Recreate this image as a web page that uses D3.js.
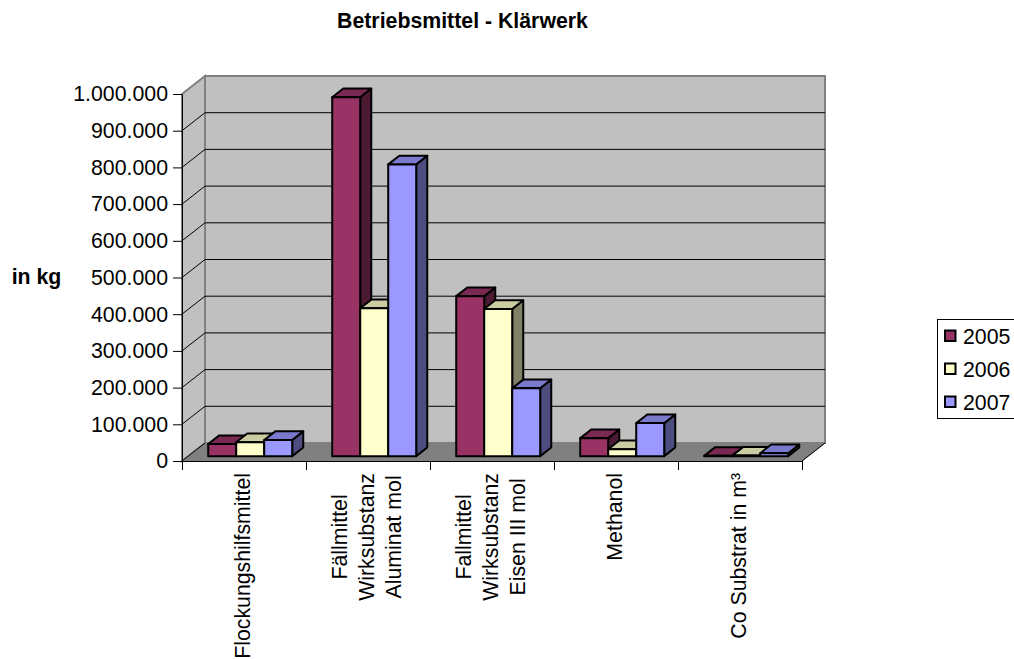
<!DOCTYPE html>
<html>
<head>
<meta charset="utf-8">
<script src="https://cdn.jsdelivr.net/npm/d3@7"></script>
<style>
  html, body { margin: 0; padding: 0; background: #fff; overflow: hidden; }
  text { font-family: "Liberation Sans", Arial, sans-serif; fill: #000; }
</style>
</head>
<body>
<div id="chart"></div>
<script>
const categories = ["Flockungshilfsmittel", "Fällmittel Wirksubstanz Aluminat mol", "Fallmittel Wirksubstanz Eisen III mol", "Methanol", "Co Substrat in m³"];
const categoryLines = [["Flockungshilfsmittel"], ["Fällmittel", "Wirksubstanz", "Aluminat mol"], ["Fallmittel", "Wirksubstanz", "Eisen III mol"], ["Methanol"], ["Co Substrat in m³"]];
const years = ["2005", "2006", "2007"];
const values2005 = [33000, 978000, 436000, 49000, 1000];
const values2006 = [38000, 403000, 401000, 19000, 1500];
const values2007 = [44000, 795000, 185000, 90000, 8000];
const yTicks = [0, 100000, 200000, 300000, 400000, 500000, 600000, 700000, 800000, 900000, 1000000];

const w = 1014, h = 659;
const front = { left: 182, right: 802, bottom: 461, top: 94 };
const depth = { dx: 23, dy: 18 };
const barZ = [0.27, 0.75];
const fontSize = "21.3px";

const colors = { "2005": "#993366", "2006": "#ffffcc", "2007": "#9999ff" };
const topColors = { "2005": "#7a2952", "2006": "#cccca3", "2007": "#7a7acc" };
const sideColors = { "2005": "#4d1a33", "2006": "#808066", "2007": "#4d4d80" };

const series = { "2005": values2005, "2006": values2006, "2007": values2007 };

const svg = d3.select("#chart").append("svg")
  .attr("width", w).attr("height", h)
  .style("display", "block");

const x0 = d3.scaleBand().domain(categories)
  .range([front.left, front.right])
  .paddingInner(0.3226).paddingOuter(0.1613);
const x1 = d3.scaleBand().domain(years).range([0, x0.bandwidth()]);
const y = d3.scaleLinear().domain([0, 1000000]).range([front.bottom, front.top]);

// project a point at (px, value) and depth z (0 front, 1 back wall)
const pt = (px, v, z) => [px + depth.dx * z, y(v) - depth.dy * z];
const line = d3.line();
const poly = pts => line(pts) + "Z";

// walls and floor
svg.append("path")
  .attr("d", poly([pt(front.left, 0, 0), pt(front.left, 1000000, 0), pt(front.left, 1000000, 1), pt(front.left, 0, 1)]))
  .attr("fill", "#c0c0c0").attr("stroke", "#808080").attr("stroke-width", 2);
svg.append("path")
  .attr("d", poly([pt(front.left, 0, 1), pt(front.left, 1000000, 1), pt(front.right, 1000000, 1), pt(front.right, 0, 1)]))
  .attr("fill", "#c0c0c0").attr("stroke", "#808080").attr("stroke-width", 2);
svg.append("path")
  .attr("d", poly([pt(front.left, 0, 0), pt(front.left, 0, 1), pt(front.right, 0, 1), pt(front.right, 0, 0)]))
  .attr("fill", "#808080").attr("stroke", "#808080");

// gridlines
const grid = svg.append("g").attr("fill", "none").attr("stroke", "#000").attr("stroke-width", 1);
yTicks.filter(d => d > 0 && d < 1000000).forEach(d => {
  grid.append("path").attr("d", line([pt(front.left, d, 0), pt(front.left, d, 1), pt(front.right, d, 1)]));
});
grid.append("path").attr("d", line([pt(front.left, 0, 0), pt(front.left, 0, 1)]));
grid.append("path").attr("d", line([pt(front.right, 0, 0), pt(front.right, 0, 1)]));
grid.append("path").attr("d", line([pt(front.left, 1000000, 0), pt(front.left, 1000000, 1)])).attr("stroke", "#808080");

// bars
const groups = svg.append("g")
  .attr("stroke", "#000").attr("stroke-width", 2).attr("stroke-linejoin", "round");
categories.forEach((c, i) => {
  years.forEach(yr => {
    const v = series[yr][i];
    const a = x0(c) + x1(yr);
    const b = a + x1.bandwidth();
    const [zf, zb] = barZ;
    // side first so the next bar covers it
    groups.append("path").attr("fill", sideColors[yr])
      .attr("d", poly([pt(b, 0, zf), pt(b, v, zf), pt(b, v, zb), pt(b, 0, zb)]));
    groups.append("path").attr("fill", topColors[yr])
      .attr("d", poly([pt(a, v, zf), pt(a, v, zb), pt(b, v, zb), pt(b, v, zf)]));
  });
  years.forEach(yr => {
    const v = series[yr][i];
    const a = x0(c) + x1(yr);
    const b = a + x1.bandwidth();
    groups.append("path").attr("fill", colors[yr])
      .attr("d", poly([pt(a, 0, barZ[0]), pt(a, v, barZ[0]), pt(b, v, barZ[0]), pt(b, 0, barZ[0])]));
  });
});

// y axis
const yAxis = svg.append("g")
  .attr("transform", `translate(${front.left},0)`)
  .call(d3.axisLeft(y).tickValues(yTicks)
    .tickFormat(d => d3.format(",")(d).replace(/,/g, "."))
    .tickSize(9).tickPadding(5).tickSizeOuter(0));
yAxis.selectAll("text").style("font-size", fontSize);
yAxis.selectAll("line").attr("stroke", "#000");
yAxis.select(".domain").attr("stroke", "#000");

// x axis: ticks sit on the band edges
const edges = d3.scaleLinear().domain([0, categories.length]).range([front.left, front.right]);
const xAxis = svg.append("g")
  .attr("transform", `translate(0,${front.bottom})`)
  .call(d3.axisBottom(edges).tickValues(d3.range(categories.length + 1)).tickSize(9).tickFormat(""));
xAxis.selectAll("line").attr("stroke", "#000");
xAxis.select(".domain").attr("stroke", "#000");

// category labels
const labelTop = 473, lineGap = 27;
categoryLines.forEach((lines, i) => {
  const cx = x0(categories[i]) + x0.bandwidth() / 2 + 5.5;
  const g = svg.append("g");
  const t = lines.map(s => g.append("text")
    .attr("text-anchor", "middle")
    .style("font-size", fontSize)
    .text(s));
  const maxLen = d3.max(t, n => n.node().getComputedTextLength());
  t.forEach((n, j) => {
    const bx = cx + (j - (lines.length - 1) / 2) * lineGap;
    n.attr("transform", `translate(${bx},${labelTop + maxLen / 2}) rotate(-90)`);
  });
});

// title and y label
svg.append("text").attr("x", 462.5).attr("y", 28).attr("text-anchor", "middle")
  .style("font-size", fontSize).style("font-weight", "bold").text("Betriebsmittel - Klärwerk");
svg.append("text").attr("x", 36.5).attr("y", 284).attr("text-anchor", "middle")
  .style("font-size", fontSize).style("font-weight", "bold").text("in kg");

// legend
const legend = svg.append("g");
legend.append("rect").attr("x", 937.5).attr("y", 319.5).attr("width", 90).attr("height", 99)
  .attr("fill", "#fff").attr("stroke", "#000");
years.forEach((yr, i) => {
  const ly = 336 + i * 33;
  legend.append("rect").attr("x", 945).attr("y", ly - 5.5).attr("width", 10.5).attr("height", 10.5)
    .attr("fill", colors[yr]).attr("stroke", "#000").attr("stroke-width", 2);
  legend.append("text").attr("x", 963).attr("y", ly + 7.5)
    .style("font-size", fontSize).text(yr);
});
</script>
</body>
</html>
